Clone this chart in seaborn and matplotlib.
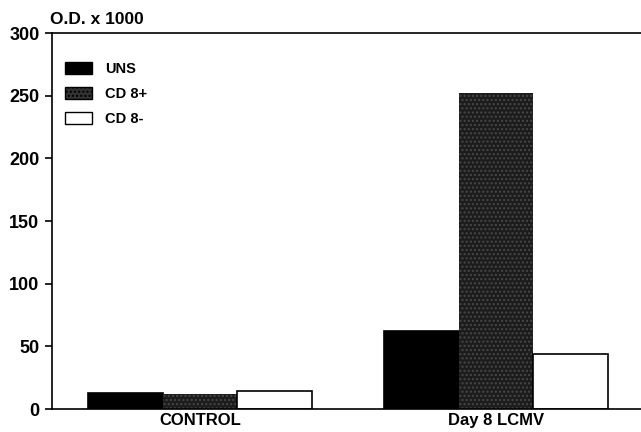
import matplotlib
matplotlib.use("Agg")
import matplotlib.pyplot as plt
import seaborn as sns
import pandas as pd
from matplotlib.patches import Patch

groups = ["CONTROL", "Day 8 LCMV"]
series = ["UNS", "CD 8+", "CD 8-"]
uns = [13, 62]
cd8_pos = [12, 252]
cd8_neg = [14, 44]
yticks = [0, 50, 100, 150, 200, 250, 300]

rows = []
for s, vals in zip(series, [uns, cd8_pos, cd8_neg]):
    for g, v in zip(groups, vals):
        rows.append({"group": g, "series": s, "value": v})
df = pd.DataFrame(rows)

sns.set_style("ticks")
plt.rcParams["font.family"] = ["Liberation Sans", "DejaVu Sans"]
plt.rcParams["font.weight"] = "bold"
plt.rcParams["text.color"] = "black"
plt.rcParams["xtick.color"] = "black"
plt.rcParams["ytick.color"] = "black"
plt.rcParams["axes.edgecolor"] = "black"
plt.rcParams["axes.labelcolor"] = "black"

colors = {"UNS": "#000000", "CD 8+": "#1c1c1c", "CD 8-": "#ffffff"}

fig = plt.figure(figsize=(6.41, 4.32), dpi=100)
ax = fig.add_axes([52 / 641, 23 / 432, 1 - 52 / 641, 376 / 432])

sns.barplot(data=df, x="group", y="value", hue="series", order=groups,
            hue_order=series, palette=colors, width=0.757, ax=ax,
            edgecolor="black", linewidth=1.2, saturation=1, legend=False)

for p in ax.patches:
    fc = p.get_facecolor()[0]
    if 0.05 < fc < 0.5:
        p.set_hatch("....")
        p.set_edgecolor("#484848")
        p.set_linewidth(0)

ax.set_xlim(-0.5, 1.49)
ax.set_ylim(0, 300)
ax.set_yticks(yticks)
ax.set_yticklabels([str(t) for t in yticks], fontsize=13, fontweight="bold")
ax.tick_params(axis="y", direction="out", length=5, width=1.2, pad=4)
ax.tick_params(axis="x", length=0, pad=3)
for lbl in ax.get_xticklabels():
    lbl.set_fontsize(12)
    lbl.set_fontweight("bold")
ax.set_xlabel("")
ax.set_ylabel("")
ax.spines["right"].set_visible(False)
for s in ["left", "bottom", "top"]:
    ax.spines[s].set_linewidth(1.2)

fig.text(50 / 641, 1 - 19 / 432, "O.D. x 1000", fontsize=12.5, fontweight="bold",
         ha="left", va="center")

handles = [Patch(facecolor=("#333333" if s == "CD 8+" else colors[s]),
                 edgecolor="black", linewidth=1.0,
                 hatch=("...." if s == "CD 8+" else None)) for s in series]
ax.legend(handles=handles, labels=series, loc="upper left",
          bbox_to_anchor=(0.012, 0.938), borderaxespad=0, frameon=False,
          handlelength=1.85, handleheight=0.9, labelspacing=0.75,
          handletextpad=0.9, prop={"weight": "bold", "size": 10.5})

fig.savefig("out.png", dpi=100)
